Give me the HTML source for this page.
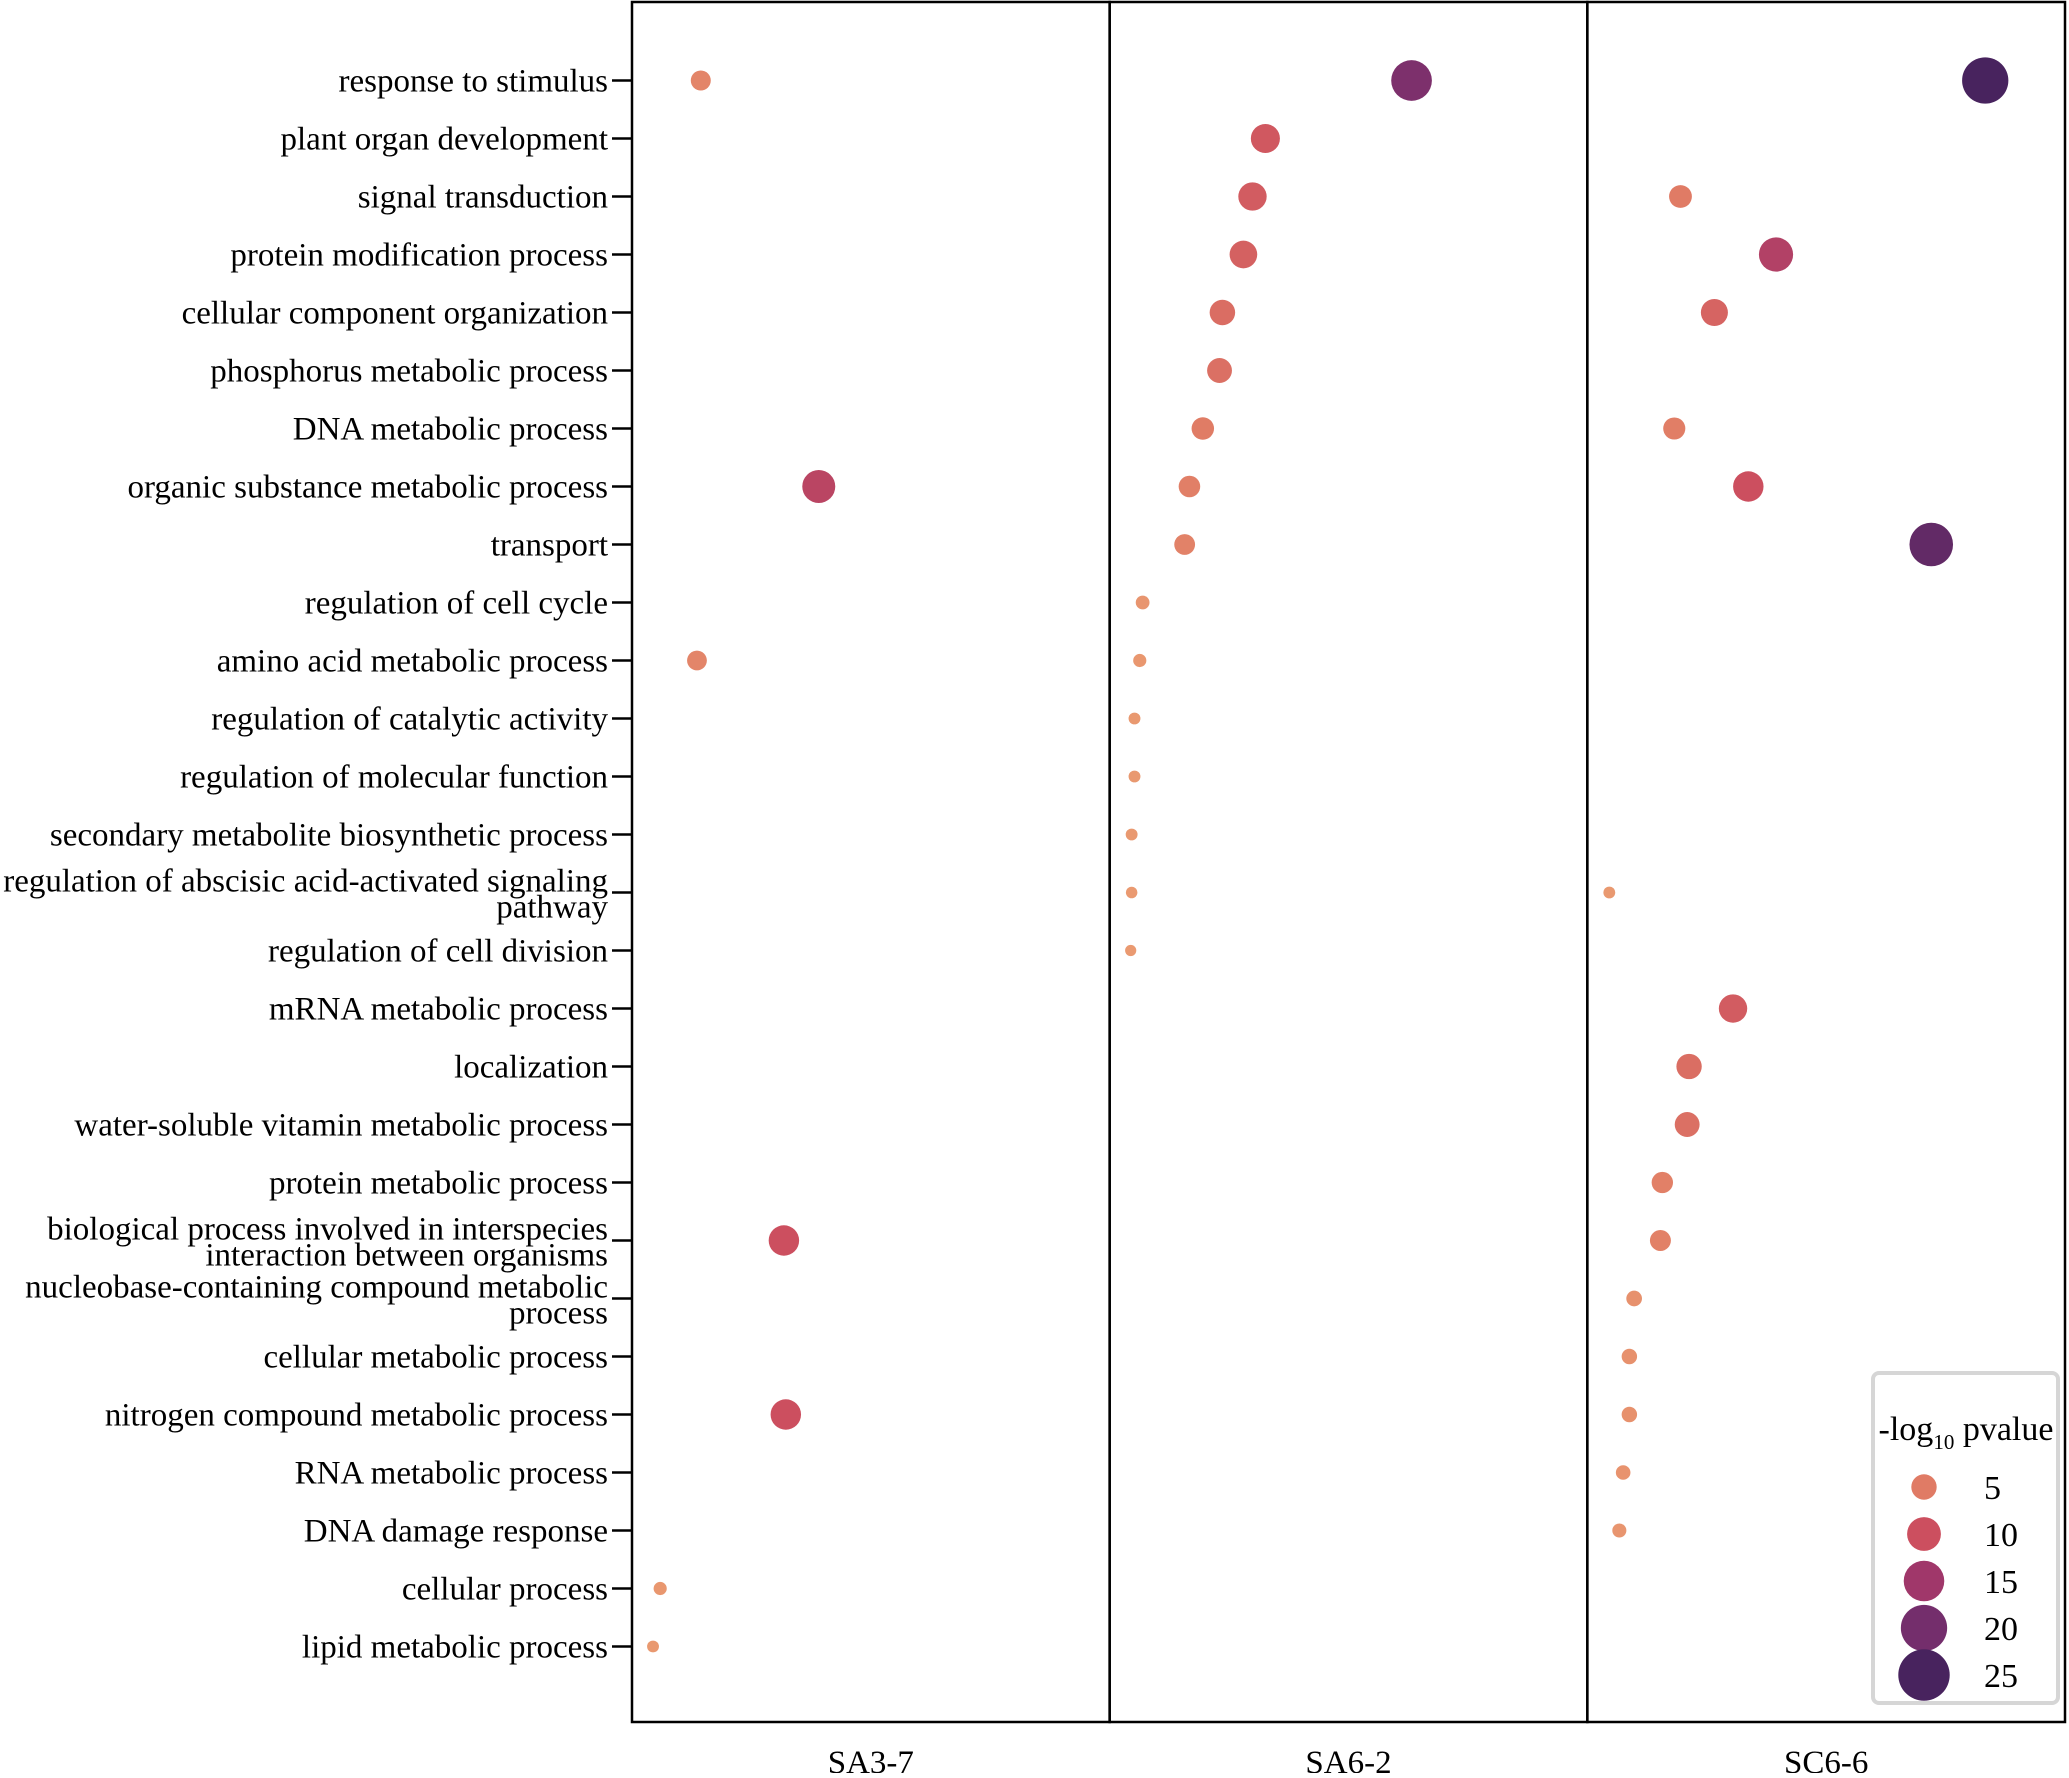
<!DOCTYPE html>
<html><head><meta charset="utf-8"><style>
html,body{margin:0;padding:0;background:#fff;}
svg text{font-family:"Liberation Serif",serif;}
</style></head><body>
<svg id="chart" width="2069" height="1773" xmlns="http://www.w3.org/2000/svg">
<g id="panels"></g>
<g id="ylabels"></g>
<g id="dots"></g>
<g id="legend"></g>
</svg>
<script>
const categories = ["response to stimulus","plant organ development","signal transduction","protein modification process","cellular component organization","phosphorus metabolic process","DNA metabolic process","organic substance metabolic process","transport","regulation of cell cycle","amino acid metabolic process","regulation of catalytic activity","regulation of molecular function","secondary metabolite biosynthetic process","regulation of abscisic acid-activated signaling|pathway","regulation of cell division","mRNA metabolic process","localization","water-soluble vitamin metabolic process","protein metabolic process","biological process involved in interspecies|interaction between organisms","nucleobase-containing compound metabolic|process","cellular metabolic process","nitrogen compound metabolic process","RNA metabolic process","DNA damage response","cellular process","lipid metabolic process"];
const groups = ["SA3-7","SA6-2","SC6-6"];
// [categoryIndex, x value (0-1 panel scale), -log10 pvalue]
const seriesSA37 = [[0,0.144,3.5],[7,0.391,12],[10,0.136,3.4],[20,0.318,10],[23,0.322,10],[26,0.059,0.7],[27,0.044,0.3]];
const seriesSA62 = [[0,0.632,19],[1,0.326,9],[2,0.299,8.5],[3,0.280,8],[4,0.236,6.6],[5,0.230,6.2],[6,0.195,4.8],[7,0.167,4.3],[8,0.157,3.9],[9,0.069,0.9],[10,0.063,0.7],[11,0.052,0.3],[12,0.052,0.3],[13,0.046,0.3],[14,0.046,0.2],[15,0.044,0.1]];
const seriesSC66 = [[0,0.833,25],[2,0.195,5],[3,0.395,13],[4,0.266,7.6],[6,0.182,4.6],[7,0.337,10],[8,0.720,22],[14,0.046,0.3],[16,0.305,8.5],[17,0.213,6.5],[18,0.209,6.2],[19,0.157,4.2],[20,0.153,4],[21,0.098,1.6],[22,0.088,1.5],[23,0.088,1.5],[24,0.075,1.2],[25,0.067,1]];
const legendValues = [5,10,15,20,25];

const NS="http://www.w3.org/2000/svg";
const L=632,R=2065,T=2,B=1722,PW=(R-L)/3;
const FS=33;
const yPos=i=>80.5+58*i;
const xPos=(p,v)=>L+p*PW+v*PW;
const rad=v=>0.9*Math.sqrt(25*v+36);
const legRad=v=>Math.sqrt(25*v+36);
const stops=[[0,[234,155,113]],[5,[224,123,101]],[10,[204,79,95]],[15,[160,55,106]],[20,[116,46,108]],[25,[72,35,94]]];
function col(v){v=Math.max(0,Math.min(25,v));for(let i=0;i<stops.length-1;i++){const a=stops[i],b=stops[i+1];if(v<=b[0]){const t=(v-a[0])/(b[0]-a[0]);const c=a[1].map((x,k)=>Math.round(x+(b[1][k]-x)*t));return `rgb(${c})`;}}return 'rgb(72,35,94)';}
function mk(tag,attrs,parent){const e=document.createElementNS(NS,tag);for(const k in attrs)e.setAttribute(k,attrs[k]);parent.appendChild(e);return e;}

const panels=document.getElementById('panels');
groups.forEach((g,p)=>{
  const r=mk('rect',{x:L+p*PW,y:T,width:PW,height:B-T,fill:'none',stroke:'#000','stroke-width':2.5},panels);
  
  
  const t=mk('text',{x:L+p*PW+PW/2,y:1773,'text-anchor':'middle','font-size':FS},panels);
  t.textContent=g;
  
  
});

const yl=document.getElementById('ylabels');
categories.forEach((c,i)=>{
  const y=yPos(i);
  const tk=mk('line',{x1:612,x2:632,y1:y,y2:y,stroke:'#000','stroke-width':2.5},yl);
  
  
  const parts=c.split('|');
  const t=mk('text',{x:608,'text-anchor':'end','font-size':FS},yl);
  
  
  if(parts.length===1){t.setAttribute('y',y+11);t.textContent=c;}
  else{parts.forEach((s,k)=>{const ts=mk('tspan',{x:608,y:y-1+k*26},t);ts.textContent=s;});}
});

const dots=document.getElementById('dots');
[seriesSA37,seriesSA62,seriesSC66].forEach((ser,p)=>{
  ser.forEach(d=>{
    const c=mk('circle',{cx:xPos(p,d[1]),cy:yPos(d[0]),r:rad(d[2]),fill:col(d[2])},dots);
    
    
  });
});

const lg=document.getElementById('legend');
const box=mk('rect',{x:1873,y:1373,width:185,height:330,rx:6,fill:'#fff',stroke:'#d6d6d6','stroke-width':4},lg);


const tt=mk('text',{x:1966,y:1440,'text-anchor':'middle','font-size':34},lg);


const s1=mk('tspan',{},tt);s1.textContent='-log';
const s2=mk('tspan',{'font-size':21,dy:9},tt);s2.textContent='10';
const s3=mk('tspan',{dy:-9},tt);s3.textContent=' pvalue';
legendValues.forEach((v,i)=>{
  const y=1487+47*i;
  const c=mk('circle',{cx:1924,cy:y,r:legRad(v),fill:col(v)},lg);
  
  
  const t=mk('text',{x:1984,y:y+12,'font-size':34},lg);
  t.textContent=v;
  
  
});
</script>
</body></html>
